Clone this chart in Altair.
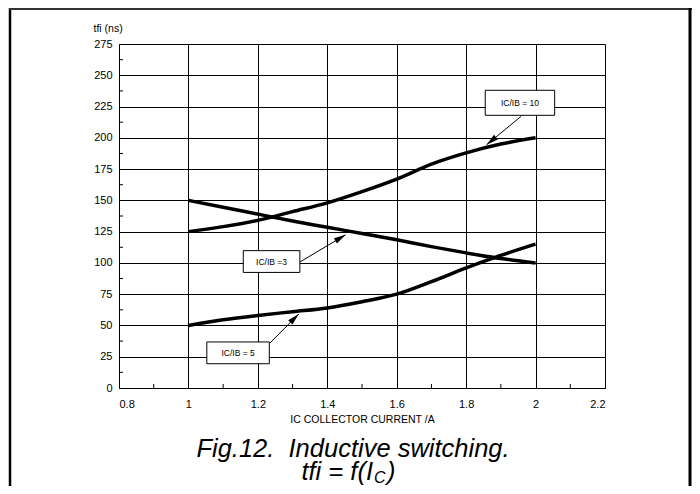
import altair as alt
import pandas as pd

# ---- data ----
ic = [1.0, 1.1, 1.2, 1.3, 1.4, 1.5, 1.6, 1.7, 1.8, 1.9, 2.0]
tfi_10 = [125, 129, 134, 141, 148, 157, 167, 179, 188, 195, 200]
tfi_3 = [150, 144.5, 139, 133.5, 128.5, 123.5, 118.5, 113, 108, 103.5, 100]
tfi_5 = [50, 54.5, 58, 61, 64, 69, 75, 85, 96, 106, 115]

x_ticks = [0.8, 1.0, 1.2, 1.4, 1.6, 1.8, 2.0, 2.2]
y_ticks = [0, 25, 50, 75, 100, 125, 150, 175, 200, 225, 250, 275]
x_minor = [0.9, 1.1, 1.3, 1.5, 1.7, 1.9, 2.1]
y_minor = [12.5, 37.5, 62.5, 87.5, 112.5, 137.5, 162.5, 187.5, 212.5, 237.5, 262.5]

box_labels = ["IC/IB = 10", "IC/IB =3", "IC/IB = 5"]
box_x1 = [1.855, 1.158, 1.053]
box_x2 = [2.055, 1.321, 1.233]
box_y1 = [218.0, 92.4, 19.4]
box_y2 = [238.0, 109.8, 36.8]
arrow_x1 = [1.958, 1.321, 1.235]
arrow_y1 = [217.1, 100.7, 36.0]
arrow_x2 = [1.859, 1.453, 1.318]
arrow_y2 = [194.5, 122.5, 59.2]
arrow_angle = [230.5, 59.1, 45.0]

FONT = "Liberation Sans"

rows = []
for name, vals in (("10", tfi_10), ("3", tfi_3), ("5", tfi_5)):
    for x, y in zip(ic, vals):
        rows.append({"ic": x, "tfi": y, "series": name})
df = pd.DataFrame(rows)

ann = pd.DataFrame({
    "label": box_labels,
    "bx1": box_x1, "bx2": box_x2, "by1": box_y1, "by2": box_y2,
    "bxc": [(a + b) / 2 for a, b in zip(box_x1, box_x2)],
    "byc": [(a + b) / 2 for a, b in zip(box_y1, box_y2)],
    "ax1": arrow_x1, "ay1": arrow_y1, "ax2": arrow_x2, "ay2": arrow_y2,
    "ang": arrow_angle,
})

xscale = alt.Scale(domain=[0.8, 2.2], nice=False, zero=False)
yscale = alt.Scale(domain=[0, 275], nice=False, zero=False)

xaxis = alt.Axis(values=x_ticks, format="~g", grid=True, title="IC COLLECTOR CURRENT /A",
                 labelPadding=10, titlePadding=5, labelOverlap=False)
yaxis = alt.Axis(values=y_ticks, grid=True, title="tfi (ns)", titleAngle=0,
                 titleX=-26, titleY=-13, titleAlign="left", titleBaseline="alphabetic",
                 labelPadding=7, labelOverlap=False)


def X(field):
    return alt.X(field, scale=xscale, axis=xaxis)


def Y(field):
    return alt.Y(field, scale=yscale, axis=yaxis)


lines = alt.Chart(df).mark_line(color="black", strokeWidth=3.5, interpolate="monotone").encode(
    x=X("ic:Q"), y=Y("tfi:Q"), detail="series:N",
)

xm = alt.Chart(pd.DataFrame({"x": x_minor})).mark_rule(color="black", strokeWidth=1).encode(
    x=X("x:Q"), y=alt.value(344), y2=alt.value(340))
ym = alt.Chart(pd.DataFrame({"y": y_minor})).mark_rule(color="black", strokeWidth=1).encode(
    y=Y("y:Q"), x=alt.value(0), x2=alt.value(4))

arrows = alt.Chart(ann).mark_rule(color="black", strokeWidth=1).encode(
    x=X("ax1:Q"), y=Y("ay1:Q"), x2="ax2:Q", y2="ay2:Q")
heads = alt.Chart(ann).mark_point(shape="M0,0L-0.5,2L0.5,2Z", filled=True, size=144,
                                  color="black", opacity=1).encode(
    x=X("ax2:Q"), y=Y("ay2:Q"), angle=alt.Angle("ang:Q", scale=None))
boxes = alt.Chart(ann).mark_rect(fill="white", stroke="black", strokeWidth=1).encode(
    x=X("bx1:Q"), x2="bx2:Q", y=Y("by1:Q"), y2="by2:Q")
btext = alt.Chart(ann).mark_text(font=FONT, fontSize=8.5, color="black").encode(
    x=X("bxc:Q"), y=Y("byc:Q"), text="label:N")

one = pd.DataFrame({"a": [0]})
frame_l = alt.Chart(one).mark_rule(color="black", strokeWidth=2.5).encode(
    x=alt.value(-109), y=alt.value(-44), y2=alt.value(442))
frame_t = alt.Chart(one).mark_rule(color="#333333", strokeWidth=2).encode(
    y=alt.value(-35), x=alt.value(-110), x2=alt.value(573))
frame_r = alt.Chart(one).mark_rule(color="black", strokeWidth=3).encode(
    x=alt.value(571), y=alt.value(-36), y2=alt.value(442))

CAP = 25.5
cap1 = alt.Chart(one).mark_text(text="Fig.12.\u00a0 Inductive switching.", font=FONT, fontSize=CAP,
                                fontStyle="italic", align="center", baseline="alphabetic",
                                color="black").encode(x=alt.value(234), y=alt.value(413))
cap2 = alt.Chart(one).mark_text(text="tfi = f(I", font=FONT, fontSize=CAP, fontStyle="italic",
                                align="right", baseline="alphabetic", color="black").encode(
    x=alt.value(254), y=alt.value(436))
cap3 = alt.Chart(one).mark_text(text="C", font=FONT, fontSize=16, fontStyle="italic",
                                align="left", baseline="alphabetic", color="black").encode(
    x=alt.value(255), y=alt.value(439))
cap4 = alt.Chart(one).mark_text(text=")", font=FONT, fontSize=CAP, fontStyle="italic",
                                align="left", baseline="alphabetic", color="black").encode(
    x=alt.value(268), y=alt.value(436))

chart = alt.layer(
    lines, xm, ym, arrows, heads, boxes, btext, frame_l, frame_t, frame_r, cap1, cap2, cap3, cap4
).properties(
    width=486, height=344,
    autosize=alt.AutoSizeParams(type="none"),
    padding={"left": 111, "top": 36, "right": 87, "bottom": 98},
).configure_view(strokeOpacity=0).configure_axis(
    domainColor="black", domainWidth=1, gridColor="black", gridWidth=1, gridOpacity=1,
    tickSize=0, labelFont=FONT, labelFontSize=11, labelColor="black",
    titleFont=FONT, titleFontSize=10.5, titleFontWeight="normal", titleColor="black",
)

chart.save("out.html", embed_options={"renderer": "svg", "actions": False})
